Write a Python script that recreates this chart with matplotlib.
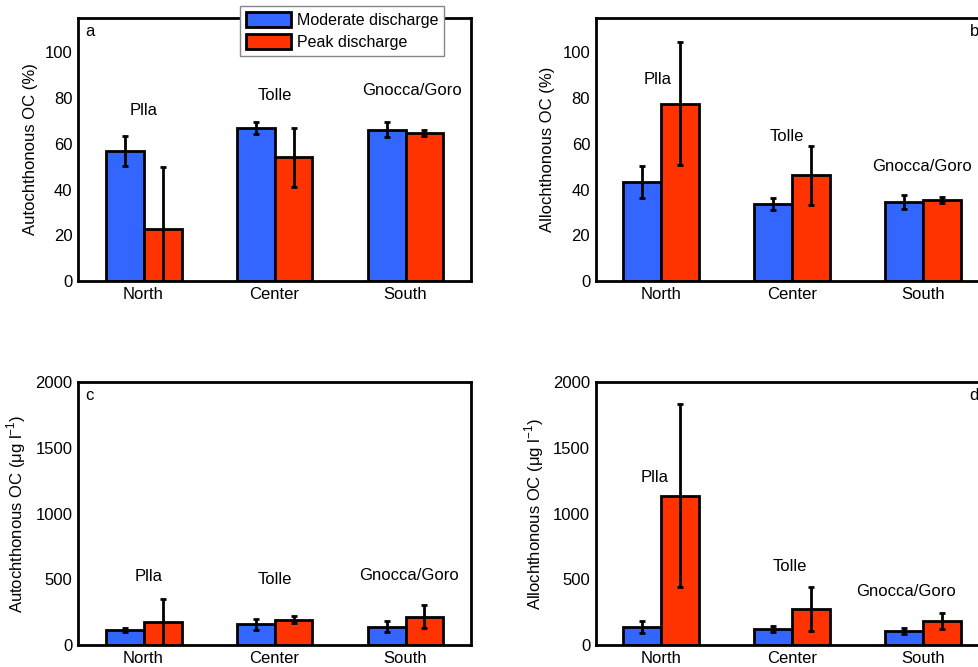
import numpy as np
import matplotlib
matplotlib.use("Agg")
import matplotlib.pyplot as plt

plt.rcParams['font.family'] = ['Liberation Sans', 'DejaVu Sans']
plt.rcParams['font.size'] = 12

# Data
regions = ['North', 'Center', 'South']
sites = ['Plla', 'Tolle', 'Gnocca/Goro']

auto_pct_mod = [56.8, 67.0, 66.2]
auto_pct_mod_err = [6.7, 2.6, 3.2]
auto_pct_peak = [22.7, 54.1, 64.8]
auto_pct_peak_err = [27.0, 13.0, 1.3]

allo_pct_mod = [43.4, 33.6, 34.5]
allo_pct_mod_err = [6.9, 2.5, 3.2]
allo_pct_peak = [77.6, 46.2, 35.5]
allo_pct_peak_err = [27.0, 13.0, 1.3]

auto_conc_mod = [116, 157, 140]
auto_conc_mod_err = [15, 43, 42]
auto_conc_peak = [173, 193, 216]
auto_conc_peak_err = [177, 25, 87]

allo_conc_mod = [139, 124, 109]
allo_conc_mod_err = [47, 22, 24]
allo_conc_peak = [1135, 274, 183]
allo_conc_peak_err = [697, 165, 61]

# label positions (data units) for the site names
lab_a = [(1.0, 74.7), (2.0, 81.2), (3.05, 83.5)]
lab_b = [(0.97, 88.3), (1.96, 63.2), (2.99, 49.9)]
lab_c = [(1.04, 520), (2.0, 495), (3.03, 528)]
lab_d = [(0.95, 1277), (1.98, 596), (2.87, 406)]

blue = '#3366FF'
red = '#FF3300'
w = 0.29

fig = plt.figure(figsize=(9.79, 6.67), dpi=100)


def panel(rect, mod, mod_err, peak, peak_err, ylim, yticks, ylabel, letter, right, labs):
    ax = fig.add_axes(rect)
    x = np.arange(1, len(regions) + 1)
    b1 = ax.bar(x - w / 2, mod, w, color=blue, edgecolor='black', linewidth=2, zorder=2)
    b2 = ax.bar(x + w / 2, peak, w, color=red, edgecolor='black', linewidth=2, zorder=2)
    ax.errorbar(x - w / 2, mod, yerr=mod_err, fmt='none', ecolor='black',
                elinewidth=2, capsize=2.5, capthick=2, zorder=3)
    ax.errorbar(x + w / 2, peak, yerr=peak_err, fmt='none', ecolor='black',
                elinewidth=2, capsize=2.5, capthick=2, zorder=3)
    ax.set_xlim(0.5, 3.5)
    ax.set_ylim(*ylim)
    ax.set_yticks(yticks)
    ax.set_xticks(x)
    ax.set_xticklabels(regions)
    ax.tick_params(length=0, pad=4, labelsize=12)
    for s in ax.spines.values():
        s.set_linewidth(2)
    ax.set_ylabel(ylabel, fontsize=12, labelpad=5)
    for (lx, ly), name in zip(labs, sites):
        ax.text(lx, ly, name, ha='center', va='center', fontsize=12)
    if right:
        ax.text(0.975, 0.95, letter, transform=ax.transAxes, ha='right', va='center', fontsize=12)
    else:
        ax.text(0.018, 0.95, letter, transform=ax.transAxes, ha='left', va='center', fontsize=12)
    return ax, b1, b2


ax_a, h1, h2 = panel([0.0797, 0.5787, 0.4014, 0.3943], auto_pct_mod, auto_pct_mod_err,
                     auto_pct_peak, auto_pct_peak_err, (0, 115), range(0, 101, 20),
                     'Autochthonous OC (%)', 'a', False, lab_a)
panel([0.6085, 0.5787, 0.4014, 0.3943], allo_pct_mod, allo_pct_mod_err,
      allo_pct_peak, allo_pct_peak_err, (0, 115), range(0, 101, 20),
      'Allochthonous OC (%)', 'b', True, lab_b)
panel([0.0797, 0.033, 0.4014, 0.3939], auto_conc_mod, auto_conc_mod_err,
      auto_conc_peak, auto_conc_peak_err, (0, 2000), range(0, 2001, 500),
      r'Autochthonous OC ($\mathregular{\mu}$g l$^{\mathregular{-1}}$)', 'c', False, lab_c)
panel([0.6085, 0.033, 0.4014, 0.3939], allo_conc_mod, allo_conc_mod_err,
      allo_conc_peak, allo_conc_peak_err, (0, 2000), range(0, 2001, 500),
      r'Allochthonous OC ($\mathregular{\mu}$g l$^{\mathregular{-1}}$)', 'd', True, lab_d)

leg = fig.legend([h1, h2], ['Moderate discharge', 'Peak discharge'],
                 loc='upper left', bbox_to_anchor=(0.245, 0.991),
                 borderaxespad=0, fancybox=False, framealpha=1,
                 edgecolor='#888888', handlelength=2.8, handleheight=1.05,
                 handletextpad=0.35, borderpad=0.4, labelspacing=0.35, fontsize=11.5)
leg.get_frame().set_linewidth(1)

fig.savefig('out.png', dpi=100)
